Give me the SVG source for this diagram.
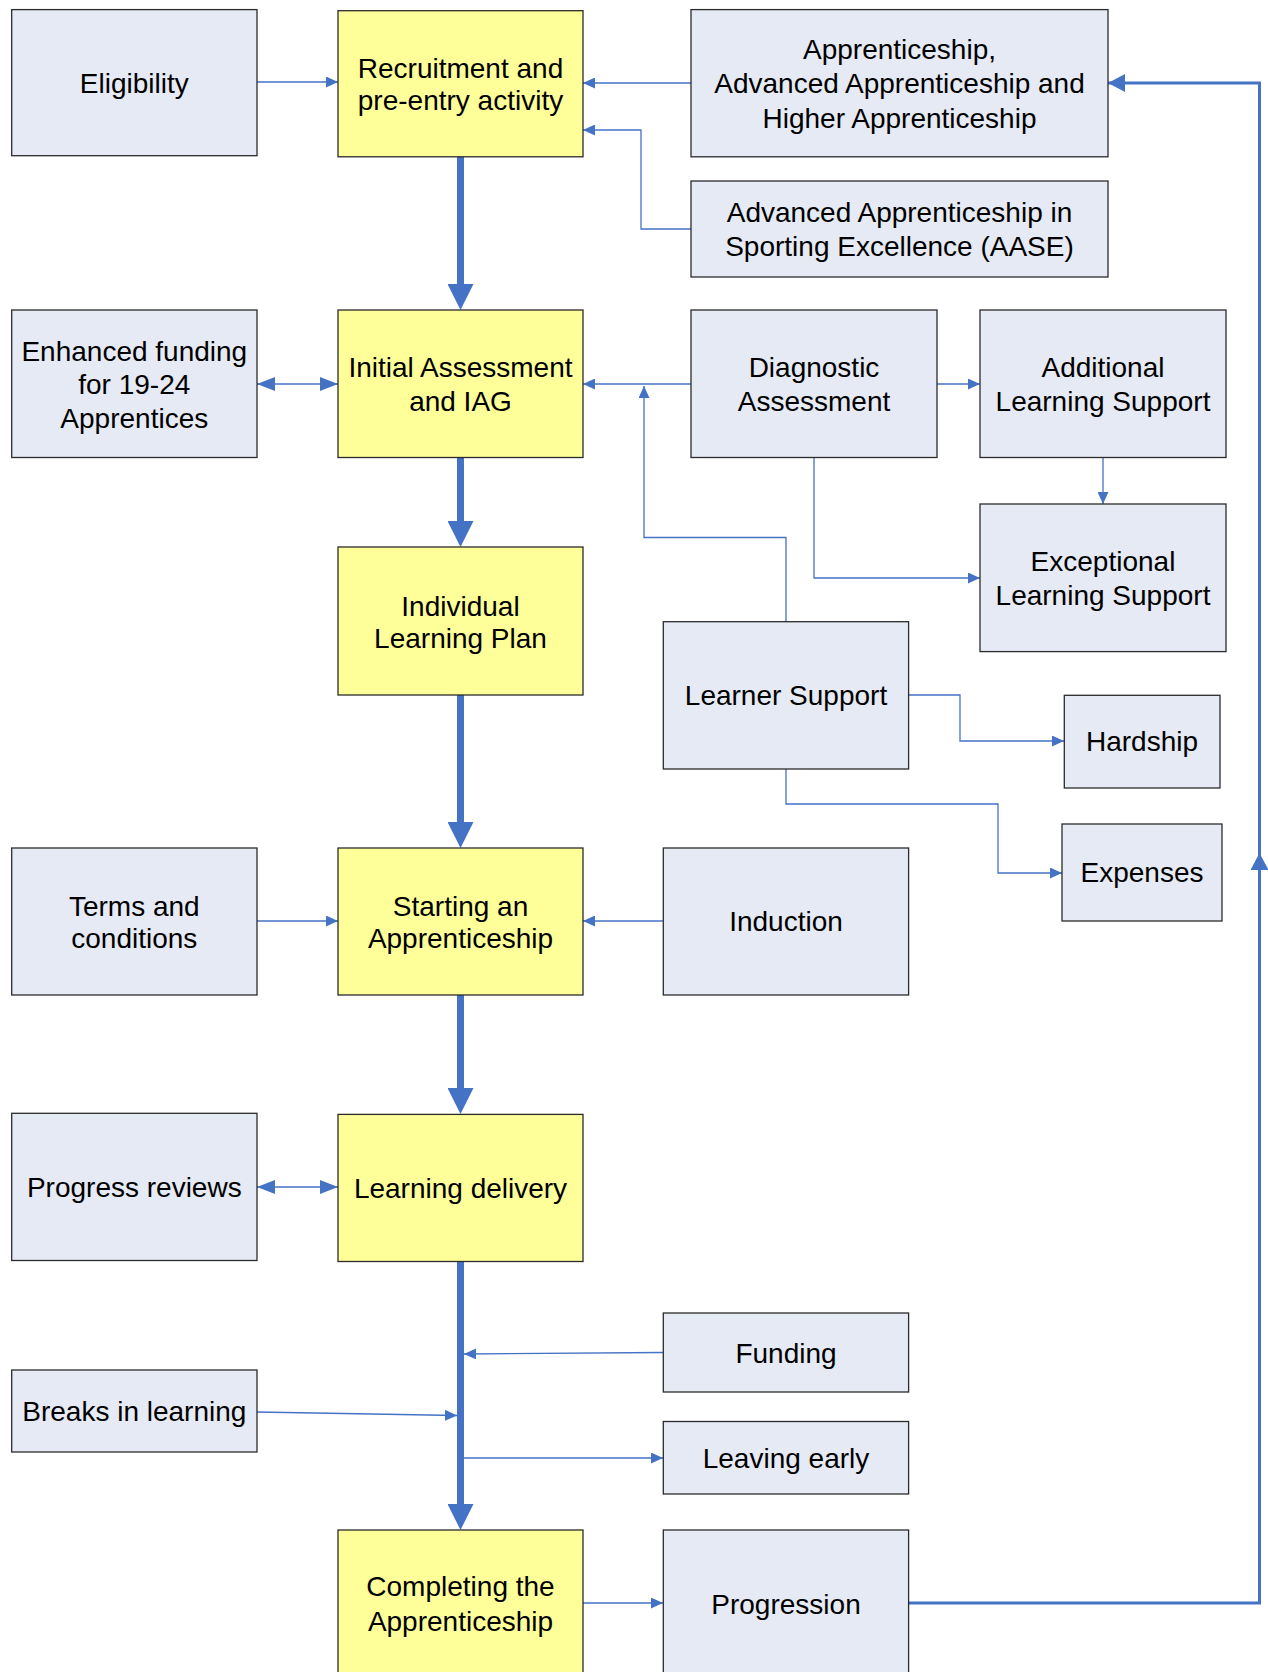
<svg xmlns="http://www.w3.org/2000/svg" width="1268" height="1672" viewBox="0 0 1268 1672">
<style>
.box{fill:#E6EAF5;stroke:#2b2b2b;stroke-width:1.3}
.main{fill:#FFFF99;stroke:#2b2b2b;stroke-width:1.3}
.t{font-family:"Liberation Sans",Arial,sans-serif;font-size:28px;fill:#000;text-anchor:middle}
.thin{fill:none;stroke:#4472C4;stroke-width:1.3}
.thick{fill:none;stroke:#4472C4;stroke-width:7;stroke-linecap:round}
.loop{fill:none;stroke:#4472C4;stroke-width:3}
</style>
<defs>
<marker id="arr" markerUnits="userSpaceOnUse" viewBox="0 0 12 11" markerWidth="12" markerHeight="11" refX="12" refY="5.5" orient="auto"><path d="M0,0 L12,5.5 L0,11 z" fill="#4472C4"/></marker>
<marker id="arr2" markerUnits="userSpaceOnUse" viewBox="0 0 18 14" markerWidth="18" markerHeight="14" refX="18" refY="7" orient="auto-start-reverse"><path d="M0,0 L18,7 L0,14 z" fill="#4472C4"/></marker>
<marker id="big" markerUnits="userSpaceOnUse" viewBox="0 0 26 26" markerWidth="26" markerHeight="26" refX="12" refY="13" orient="auto"><path d="M0,0 L26,13 L0,26 z" fill="#4472C4"/></marker>
<marker id="lp" markerUnits="userSpaceOnUse" viewBox="0 0 17 18" markerWidth="17" markerHeight="18" refX="17" refY="9" orient="auto"><path d="M0,0 L17,9 L0,18 z" fill="#4472C4"/></marker>
</defs>

<g id="connectors">
<path class="thin" d="M257,82 H338" marker-end="url(#arr)"/>
<path class="thin" d="M691,83 H583" marker-end="url(#arr)"/>
<path class="thin" d="M691,229 H641 V130 H583" marker-end="url(#arr)"/>
<path class="thin" d="M257,384 H338" marker-start="url(#arr2)" marker-end="url(#arr2)"/>
<path class="thin" d="M691,384 H583" marker-end="url(#arr)"/>
<path class="thin" d="M786,622 V537.5 H644 V386" marker-end="url(#arr)"/>
<path class="thin" d="M937,384 H980" marker-end="url(#arr)"/>
<path class="thin" d="M1103,457.5 V504" marker-end="url(#arr)"/>
<path class="thin" d="M814,457.5 V578 H980" marker-end="url(#arr)"/>
<path class="thin" d="M908.6,695 H960 V741 H1064" marker-end="url(#arr)"/>
<path class="thin" d="M786,769 V804 H998 V873 H1062" marker-end="url(#arr)"/>
<path class="thin" d="M257,921 H338" marker-end="url(#arr)"/>
<path class="thin" d="M663,921 H583" marker-end="url(#arr)"/>
<path class="thin" d="M257,1187 H338" marker-start="url(#arr2)" marker-end="url(#arr2)"/>
<path class="thin" d="M663,1352.5 L464,1354" marker-end="url(#arr)"/>
<path class="thin" d="M257,1412 L457,1415.5" marker-end="url(#arr)"/>
<path class="thin" d="M464,1458 H663" marker-end="url(#arr)"/>
<path class="thin" d="M583,1603 H663" marker-end="url(#arr)"/>
<path class="thick" d="M460.5,157 V296" marker-end="url(#big)"/>
<path class="thick" d="M460.5,458 V533" marker-end="url(#big)"/>
<path class="thick" d="M460.5,695.5 V834" marker-end="url(#big)"/>
<path class="thick" d="M460.5,995.5 V1100" marker-end="url(#big)"/>
<path class="thick" d="M460.5,1262 V1516" marker-end="url(#big)"/>
<path class="loop" d="M908.6,1603 H1259.5 V853" marker-end="url(#lp)"/>
<path class="loop" d="M1259.5,868 V83 H1108" marker-end="url(#lp)"/>
</g>

<g id="eligibility"><rect class="box" x="11.7" y="9.6" width="245.3" height="146.1"/><text class="t" x="134.3" y="93">Eligibility</text></g>
<g id="recruitment"><rect class="main" x="338" y="10.7" width="245" height="146.1"/><text class="t" x="460.5" y="77.5">Recruitment and</text><text class="t" x="460.5" y="109.5">pre-entry activity</text></g>
<g id="apprenticeship"><rect class="box" x="691" y="9.6" width="417" height="147.2"/><text class="t" x="899.5" y="58.5">Apprenticeship,</text><text class="t" x="899.5" y="93">Advanced Apprenticeship and</text><text class="t" x="899.5" y="127.5">Higher Apprenticeship</text></g>
<g id="aase"><rect class="box" x="691" y="181" width="417" height="96"/><text class="t" x="899.5" y="222">Advanced Apprenticeship in</text><text class="t" x="899.5" y="256">Sporting Excellence (AASE)</text></g>
<g id="enhanced"><rect class="box" x="11.7" y="310" width="245.3" height="147.5"/><text class="t" x="134.3" y="360.5">Enhanced funding</text><text class="t" x="134.3" y="394">for 19-24</text><text class="t" x="134.3" y="427.5">Apprentices</text></g>
<g id="initial"><rect class="main" x="338" y="310" width="245" height="147.5"/><text class="t" x="460.5" y="377">Initial Assessment</text><text class="t" x="460.5" y="411">and IAG</text></g>
<g id="diagnostic"><rect class="box" x="691" y="310" width="246" height="147.5"/><text class="t" x="814" y="377">Diagnostic</text><text class="t" x="814" y="411">Assessment</text></g>
<g id="additional"><rect class="box" x="980" y="310" width="246" height="147.5"/><text class="t" x="1103" y="377">Additional</text><text class="t" x="1103" y="411">Learning Support</text></g>
<g id="exceptional"><rect class="box" x="980" y="504" width="246" height="147.6"/><text class="t" x="1103" y="571">Exceptional</text><text class="t" x="1103" y="605">Learning Support</text></g>
<g id="ilp"><rect class="main" x="338" y="547" width="245" height="148"/><text class="t" x="460.5" y="615.5">Individual</text><text class="t" x="460.5" y="648">Learning Plan</text></g>
<g id="learner-support"><rect class="box" x="663.3" y="621.7" width="245.3" height="147.3"/><text class="t" x="786" y="705">Learner Support</text></g>
<g id="hardship"><rect class="box" x="1064.3" y="695.3" width="155.7" height="92.7"/><text class="t" x="1142" y="751">Hardship</text></g>
<g id="expenses"><rect class="box" x="1062" y="824" width="160" height="97"/><text class="t" x="1142" y="882">Expenses</text></g>
<g id="terms"><rect class="box" x="11.7" y="848" width="245.3" height="147"/><text class="t" x="134.3" y="915.5">Terms and</text><text class="t" x="134.3" y="947.5">conditions</text></g>
<g id="starting"><rect class="main" x="338" y="848" width="245" height="147"/><text class="t" x="460.5" y="915.5">Starting an</text><text class="t" x="460.5" y="947.5">Apprenticeship</text></g>
<g id="induction"><rect class="box" x="663.3" y="848" width="245.3" height="147"/><text class="t" x="786" y="931">Induction</text></g>
<g id="progress"><rect class="box" x="11.7" y="1113.3" width="245.3" height="147.2"/><text class="t" x="134.3" y="1197">Progress reviews</text></g>
<g id="learning-delivery"><rect class="main" x="338" y="1114.4" width="245" height="147.1"/><text class="t" x="460.5" y="1198">Learning delivery</text></g>
<g id="funding"><rect class="box" x="663.3" y="1313" width="245.3" height="79"/><text class="t" x="786" y="1362.5">Funding</text></g>
<g id="breaks"><rect class="box" x="11.7" y="1370" width="245.3" height="82"/><text class="t" x="134.3" y="1421">Breaks in learning</text></g>
<g id="leaving"><rect class="box" x="663.3" y="1421.5" width="245.3" height="72.5"/><text class="t" x="786" y="1468">Leaving early</text></g>
<g id="completing"><rect class="main" x="338" y="1530" width="245" height="160"/><text class="t" x="460.5" y="1596">Completing the</text><text class="t" x="460.5" y="1631">Apprenticeship</text></g>
<g id="progression"><rect class="box" x="663.3" y="1530" width="245.3" height="160"/><text class="t" x="786" y="1613.5">Progression</text></g>
</svg>
